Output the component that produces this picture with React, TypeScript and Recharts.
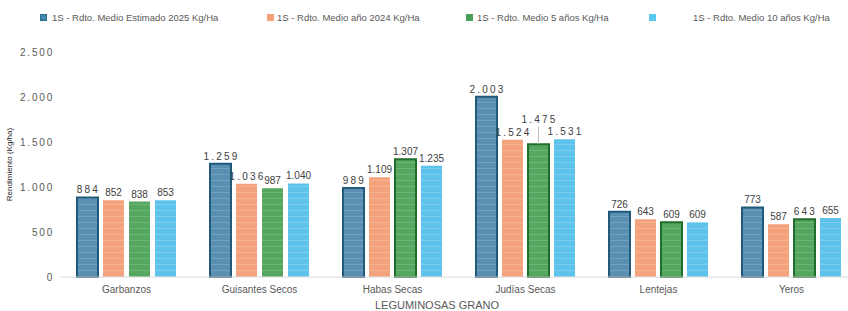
import React from 'react';
import { BarChart, Bar, XAxis, YAxis, Cell, LabelList, Legend } from 'recharts';

const categories = ['Garbanzos', 'Guisantes Secos', 'Habas Secas', 'Judías Secas', 'Lentejas', 'Yeros'];
const est2025 = [884, 1259, 989, 2003, 726, 773];
const anio2024 = [852, 1036, 1109, 1524, 643, 587];
const medio5 = [838, 987, 1307, 1475, 609, 643];
const medio10 = [853, 1040, 1235, 1531, 609, 655];
const yTicks = [0, 500, 1000, 1500, 2000, 2500];
const seriesNames = [
  '1S - Rdto. Medio Estimado 2025 Kg/Ha',
  '1S - Rdto. Medio año 2024 Kg/Ha',
  '1S - Rdto. Medio 5 años Kg/Ha',
  '1S - Rdto. Medio 10 años Kg/Ha',
];
const xAxisTitle = 'LEGUMINOSAS GRANO';
const yAxisTitle = 'Rendimiento (Kg/ha)';

const data = categories.map((name, i) => ({
  name,
  est2025: est2025[i],
  anio2024: anio2024[i],
  medio5: medio5[i],
  medio10: medio10[i],
}));

const fmt = (v: number) => String(v).replace(/\B(?=(\d{3})+(?!\d))/g, '.');

const COLORS = {
  est2025: { fill: '#5a8fb2', stroke: '#1f5a7a', light: '#8fb8d2' },
  anio2024: { fill: '#f3a27c', stroke: '#f3a27c', light: '#f9c7ad' },
  medio5: { fill: '#55a65e', stroke: '#1f6e2b', light: '#8ccb92' },
  medio10: { fill: '#5ec3ea', stroke: '#5ec3ea', light: '#9ddcf4' },
};
const legendColors = ['#3f88ab', '#f3a27c', '#46a057', '#5ac8ea'];
const legendMarkerX = [40, 267, 466, 649];
const legendTextX = [52, 277, 477, 693];

const labelStyle = { fontSize: 10, fill: '#404040', fontFamily: 'Liberation Sans, Arial, sans-serif' };

const makeLabel = (spaced: number[], raised: number[] = []) => (props: any) => {
  const { x, y, width, value, index } = props;
  const cx = Number(x) + Number(width) / 2;
  const sp = spaced.includes(index);
  const up = raised.includes(index);
  const ty = up ? Number(y) - 21 : Number(y) - 4;
  return (
    <g>
      {up && <line x1={cx} x2={cx} y1={ty + 3} y2={Number(y)} stroke="#bfbfbf" strokeWidth={1} />}
      <text
        x={cx + (sp ? 1 : 0)}
        y={ty}
        textAnchor="middle"
        letterSpacing={sp ? 2.2 : 0}
        {...labelStyle}
      >
        {fmt(value)}
      </text>
    </g>
  );
};

const renderLegend = () => (
  <div style={{ position: 'relative', width: 848, height: 30 }}>
    {seriesNames.map((n, i) => (
      <React.Fragment key={n}>
        <span
          style={{
            position: 'absolute',
            left: legendMarkerX[i],
            top: 14,
            width: 7,
            height: 7,
            background: legendColors[i],
            border: i === 0 ? '1px solid #2a6a8a' : 'none',
            boxSizing: 'border-box',
          }}
        />
        <span
          style={{
            position: 'absolute',
            left: legendTextX[i],
            top: 11,
            fontSize: 9.5,
            lineHeight: '13px',
            color: '#595959',
            fontFamily: 'Liberation Sans Narrow, Arial Narrow, Liberation Sans, sans-serif',
            whiteSpace: 'nowrap',
          }}
        >
          {n}
        </span>
      </React.Fragment>
    ))}
  </div>
);

const YTick = (props: any) => {
  const { x, y, payload } = props;
  return (
    <text x={Number(x) - 4} y={y} dy={4} textAnchor="end" fontSize={10} fill="#595959" letterSpacing={1.8}
      fontFamily="Liberation Sans, Arial, sans-serif">
      {fmt(payload.value)}
    </text>
  );
};

const stripe = (id: string, c: { fill: string; light: string }) => (
  <pattern id={id} width={6} height={6} patternUnits="userSpaceOnUse">
    <rect width={6} height={6} fill={c.fill} />
    <rect y={0} width={6} height={1} fill={c.light} opacity={0.45} />
  </pattern>
);

export default function App() {
  return (
    <div style={{ position: 'absolute', left: 0, top: 0, width: 848, height: 311, overflow: 'hidden', background: '#fff' }}>
      <BarChart
        width={860}
        height={311}
        data={data}
        margin={{ top: 22, right: 2, bottom: 0, left: 0 }}
        barCategoryGap={17}
        barGap={5}
      >
        <defs>
          {stripe('pEst', COLORS.est2025)}
          {stripe('pAnio', COLORS.anio2024)}
          {stripe('pM5', COLORS.medio5)}
          {stripe('pM10', COLORS.medio10)}
        </defs>
        <Legend
          content={renderLegend}
          verticalAlign="top"
          wrapperStyle={{ position: 'absolute', top: 0, left: 0, width: 848, height: 30 }}
        />
        <XAxis
          dataKey="name"
          interval={0}
          tickLine={false}
          tickSize={0}
          tickMargin={9}
          axisLine={{ stroke: '#d9d9d9' }}
          height={34}
          tick={{ fontSize: 10, fill: '#595959', fontFamily: 'Liberation Sans, Arial, sans-serif' }}
          label={{
            value: xAxisTitle,
            position: 'insideBottom',
            offset: 2,
            dx: -22,
            fontSize: 11,
            fill: '#595959',
            fontFamily: 'Liberation Sans, Arial, sans-serif',
          }}
        />
        <YAxis
          width={60}
          domain={[0, 2500]}
          ticks={yTicks}
          axisLine={false}
          tickLine={false}
          tickSize={0}
          tick={<YTick />}
          label={{
            value: yAxisTitle,
            angle: -90,
            position: 'center',
            dx: -21,
            fontSize: 8,
            fill: '#262626',
            fontFamily: 'Liberation Sans, Arial, sans-serif',
          }}
        />
        <Bar dataKey="est2025" name={seriesNames[0]} fill="url(#pEst)" stroke={COLORS.est2025.stroke} strokeWidth={2} isAnimationActive={false}>
          <LabelList dataKey="est2025" content={makeLabel([0, 1, 2, 3])} />
        </Bar>
        <Bar dataKey="anio2024" name={seriesNames[1]} fill="url(#pAnio)" isAnimationActive={false}>
          <LabelList dataKey="anio2024" content={makeLabel([1, 3])} />
        </Bar>
        <Bar dataKey="medio5" name={seriesNames[2]} fill="url(#pM5)" isAnimationActive={false}>
          {data.map((d, i) => (
            <Cell key={d.name} stroke={i >= 2 ? COLORS.medio5.stroke : 'none'} strokeWidth={i >= 2 ? 2 : 0} />
          ))}
          <LabelList dataKey="medio5" content={makeLabel([3, 5], [3])} />
        </Bar>
        <Bar dataKey="medio10" name={seriesNames[3]} fill="url(#pM10)" isAnimationActive={false}>
          <LabelList dataKey="medio10" content={makeLabel([3])} />
        </Bar>
      </BarChart>
    </div>
  );
}
